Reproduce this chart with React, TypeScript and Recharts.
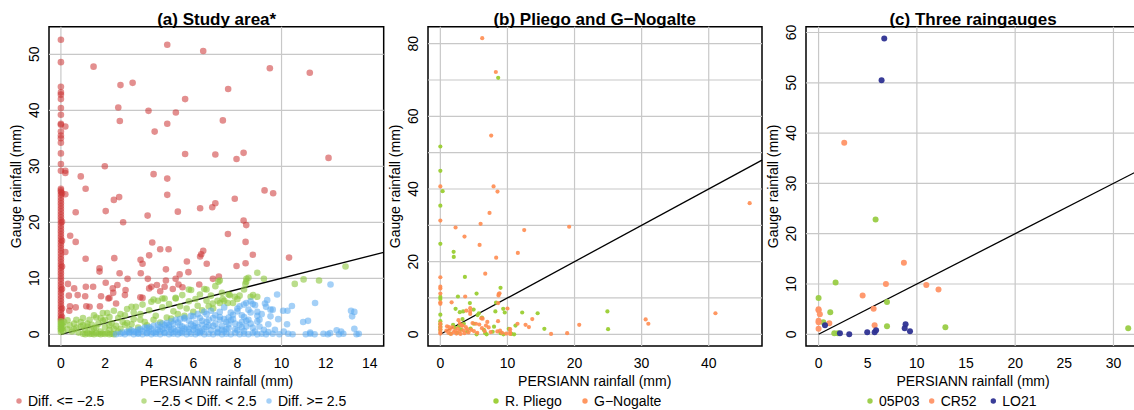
import React from 'react';
import { ScatterChart, Scatter, XAxis, YAxis, ReferenceLine, ReferenceArea } from 'recharts';

type Pair = [number, number];

// (a) study area, split by difference PERSIANN - gauge
const diffLow: Pair[] = [
  [0, 52.6], [0, 48.6], [0, 44.2], [0, 43.2], [0, 42.8], [0, 42.0], [0, 40.4], [0, 39.2], [0, 37.6], [0, 37.4],
  [0, 36.2], [0, 35.5], [0, 35.0], [0, 34.2], [0, 32.3], [0, 30.4], [0, 29.2], [0.2, 37.1], [0.2, 29.2], [0.2, 28.8],
  [0.2, 25.0], [0, 26.0], [0, 25.7], [0, 25.4], [0, 24.9], [0, 24.4], [0, 23.9], [0, 23.4], [0, 22.9], [0, 22.4],
  [0, 21.9], [0, 21.4], [0, 20.9], [0, 20.4], [0, 19.9], [0, 19.4], [0, 18.9], [0, 18.4], [0, 17.9], [0, 17.4],
  [0, 16.9], [0, 16.4], [0, 15.9], [0, 15.4], [0, 14.9], [0, 14.4], [0, 13.9], [0, 13.4], [0, 12.9], [0, 12.4],
  [0, 11.9], [0, 11.4], [0, 10.9], [0, 10.4], [0, 9.9], [0, 9.4], [0, 8.9], [0, 8.4], [0, 7.9], [0, 7.4],
  [0, 6.9], [0, 6.4], [0, 5.9], [0, 5.4], [0, 4.9], [0, 4.4], [0, 3.9], [0, 3.4], [0, 2.9], [0, 2.6],
  [0.05, 25.2], [0.05, 20.1], [0.05, 16.7], [0.05, 12.1], [0.05, 8.1], [0.05, 4.6], [0.05, 3.1],
  [1.48, 47.8], [1.99, 30.0], [0.9, 28.2], [1.12, 26.0], [2.6, 40.5], [2.7, 44.5], [3.25, 44.9], [2.67, 38.1],
  [2.64, 24.5], [2.4, 24.0], [3.97, 39.9], [4.25, 36.2], [4.2, 28.6], [4.82, 51.7], [4.82, 37.6], [4.82, 27.8],
  [4.82, 24.9], [5.21, 39.6], [5.63, 42.0], [5.63, 32.2], [6.45, 50.6], [7.0, 32.1], [7.34, 38.2], [7.58, 43.8],
  [7.96, 31.3], [8.28, 32.4], [7.88, 24.2], [9.23, 25.7], [9.62, 25.2], [9.47, 47.5], [11.28, 46.7], [12.13, 31.5],
  [0.67, 21.8], [2.03, 22.0], [2.82, 20.0], [3.93, 21.2], [5.3, 21.9], [6.31, 22.5], [6.86, 22.7], [7.0, 23.4],
  [0.42, 17.6], [0.67, 16.5], [0.2, 14.7], [7.57, 17.9], [8.28, 20.3], [8.4, 19.5], [8.37, 16.5], [4.14, 16.4],
  [4.5, 15.2], [4.88, 15.2], [6.45, 14.9], [6.36, 14.3], [6.31, 13.9], [6.61, 12.6], [5.71, 13.0], [8.7, 14.2],
  [8.37, 12.7], [7.96, 12.2], [10.34, 13.7], [1.12, 13.5], [2.42, 13.6], [3.61, 13.3], [3.7, 12.6], [4.0, 14.1],
  [1.75, 11.8], [1.75, 11.2], [2.66, 10.9], [3.62, 10.9], [3.94, 9.9], [4.76, 11.6], [5.38, 10.7], [5.78, 11.1],
  [6.89, 9.9], [7.16, 10.3], [4.76, 9.6], [5.2, 9.9], [5.33, 8.9], [5.51, 8.4], [5.07, 8.1], [4.7, 8.5],
  [4.35, 8.8], [4.1, 8.5], [4.0, 8.2], [4.5, 7.7], [6.27, 8.9], [0.32, 9.0], [0.36, 6.9], [0.6, 8.2],
  [2.03, 9.2], [2.35, 8.2], [2.56, 8.8], [2.93, 7.9], [3.02, 9.9], [1.13, 8.5], [1.46, 8.5], [0.76, 7.0],
  [1.1, 6.8], [1.82, 6.8], [2.37, 7.4], [2.9, 7.0], [2.15, 6.4], [2.2, 6.5], [3.6, 6.6], [3.7, 6.5],
  [0.41, 5.0], [0.67, 4.8], [1.15, 5.0], [1.3, 4.9], [1.77, 5.0], [0.38, 4.2], [2.5, 5.5],
];

const diffMid: Pair[] = [
  [0, 0.4], [0, 0.8], [0, 1.1], [0, 1.4], [0, 1.7], [0, 2.0], [0, 2.3], [0.1, 0.6], [0.1, 1.5], [0.15, 2.2],
  [0.05, 1.0], [0.05, 1.9], [0.3, 0.9], [0.4, 1.6], [0.5, 0.5], [0.6, 1.9], [0.7, 1.2], [0.8, 0.3], [0.9, 2.2],
  [1.0, 1.6], [0.3, 2.5], [1.0, 0.1], [1.1, 0.0], [1.2, 0.2], [1.3, 0.05], [1.4, 0.1], [1.5, 0.0], [1.6, 0.2],
  [1.7, 0.1], [1.8, 0.0], [1.9, 0.15], [2.0, 0.05], [2.1, 0.2], [2.2, 0.0], [2.3, 0.1], [2.4, 0.0],
  [1.1, 0.8], [1.2, 1.4], [1.3, 2.6], [1.4, 0.6], [1.5, 1.1], [1.6, 3.0], [1.7, 1.9], [1.8, 0.5], [1.9, 2.4],
  [2.0, 1.3], [2.1, 3.8], [2.2, 0.8], [2.3, 2.0], [2.4, 4.2], [2.5, 1.5], [1.5, 3.4], [1.9, 3.8], [2.2, 3.1],
  [0.6, 0.9], [0.9, 1.4], [1.2, 1.9], [1.6, 1.2], [2.0, 2.6], [2.6, 2.9], [2.4, 1.0], [2.9, 1.7], [3.3, 3.9],
  [3.6, 2.6], [0.7, 2.6], [1.0, 2.9], [1.4, 1.7], [1.8, 2.9], [2.2, 1.6], [2.7, 3.6], [3.0, 2.0],
  [2.6, 0.5], [2.7, 1.0], [2.8, 2.2], [2.9, 3.4], [3.0, 4.5], [3.1, 0.9], [3.2, 1.8], [3.3, 2.7], [3.4, 4.9],
  [3.5, 1.2], [3.6, 3.6], [3.7, 5.3], [3.8, 2.2], [3.9, 1.6], [4.0, 4.3], [4.1, 5.8], [4.2, 2.6], [4.3, 3.3],
  [4.4, 6.0], [4.5, 2.1], [4.6, 4.8], [4.7, 6.4], [4.8, 3.0], [4.9, 5.4], [5.0, 2.8], [5.1, 4.1], [5.2, 6.5],
  [5.3, 3.6], [5.4, 5.0], [5.5, 7.0], [5.6, 3.3], [5.7, 4.6], [5.8, 5.9], [5.9, 7.9], [6.0, 4.0], [6.1, 6.3],
  [6.2, 5.1], [6.3, 7.1], [6.4, 4.3], [6.5, 8.1], [6.6, 6.0], [6.7, 5.0], [6.8, 6.9], [6.9, 4.6], [7.0, 8.6],
  [7.2, 5.6], [7.3, 7.4], [7.4, 6.0], [7.6, 7.1], [7.8, 5.6], [8.0, 6.3], [8.1, 6.9], [8.3, 8.0], [8.4, 9.4],
  [8.5, 10.1], [8.6, 6.7], [8.9, 11.0], [8.9, 6.7], [9.2, 9.9], [10.6, 9.0], [11.0, 9.8], [11.7, 9.6],
  [12.9, 12.1], [7.2, 9.6], [6.6, 8.0], [5.8, 8.0], [5.2, 6.4], [4.6, 6.4], [4.2, 6.2], [3.2, 4.9],
  [7.14, 9.4], [8.41, 9.9], [8.36, 9.0], [8.71, 7.0], [7.88, 6.7], [7.65, 7.0], [7.33, 6.3], [7.1, 6.0],
  [6.88, 5.5], [7.56, 5.6],
];

const diffHigh: Pair[] = [
  [2.5, 0.0], [2.7, 0.1], [2.9, 0.0], [3.1, 0.2], [3.3, 0.0], [3.5, 0.1], [3.7, 0.0], [3.9, 0.2], [4.1, 0.0],
  [4.3, 0.1], [4.5, 0.0], [4.7, 0.2], [4.9, 0.0], [5.1, 0.1], [5.3, 0.0], [5.5, 0.2], [5.7, 0.0], [5.9, 0.1],
  [6.1, 0.0], [6.3, 0.2], [6.5, 0.0], [6.7, 0.1], [6.9, 0.0], [7.1, 0.2], [7.3, 0.0], [7.5, 0.1], [7.7, 0.0],
  [7.9, 0.2], [8.1, 0.0], [8.3, 0.1], [8.5, 0.0], [8.7, 0.2], [8.9, 0.0], [9.1, 0.1], [9.3, 0.0], [9.6, 0.1],
  [9.9, 0.0], [10.3, 0.1], [10.5, 0.0], [11.1, 0.0], [11.3, 0.1], [11.5, 0.0], [11.9, 0.1], [12.1, 0.0],
  [12.2, 0.2], [12.6, 0.0], [12.8, 0.1], [13.4, 0.0], [13.5, 0.1],
  [2.8, 0.3], [3.0, 0.5], [3.2, 0.7], [3.4, 0.4], [3.6, 0.9], [3.8, 1.2], [4.0, 0.6], [4.2, 1.5], [4.4, 0.8],
  [4.6, 1.9], [4.8, 1.1], [5.0, 2.3], [5.2, 0.5], [5.4, 1.6], [5.6, 2.8], [5.8, 0.9], [6.0, 3.2], [6.2, 1.3],
  [6.4, 2.4], [6.6, 3.6], [6.8, 0.7], [7.0, 1.9], [7.2, 4.0], [7.4, 2.7], [7.6, 1.1], [7.8, 3.5], [8.0, 4.6],
  [8.2, 2.2], [8.4, 1.4], [8.6, 3.9], [8.8, 5.2], [9.0, 2.6], [9.2, 0.8], [9.4, 1.8], [9.6, 4.4],
  [3.9, 0.2], [4.3, 0.4], [4.7, 0.3], [5.1, 1.0], [5.5, 0.6], [5.9, 1.8], [6.3, 0.5], [6.7, 1.6], [7.1, 0.4],
  [7.5, 2.2], [7.9, 0.9], [8.3, 3.1], [8.7, 1.2], [4.5, 1.3], [4.9, 1.7], [5.3, 2.1], [5.7, 1.2], [6.1, 2.0],
  [6.5, 1.0], [6.9, 2.9], [7.3, 1.5], [7.7, 2.5], [8.1, 1.7], [8.5, 2.6], [8.9, 3.3], [3.5, 0.2], [3.7, 0.6],
  [4.1, 1.0], [5.0, 0.3], [6.0, 0.8], [7.0, 3.4], [6.2, 3.6], [5.6, 3.0], [5.9, 3.3], [6.5, 4.0], [6.8, 4.2],
  [7.4, 4.8], [8.1, 5.0], [8.4, 5.6], [8.6, 5.9], [8.7, 5.4], [8.0, 4.1], [7.7, 3.9], [7.9, 1.9], [8.3, 0.6],
  [8.8, 0.5], [9.0, 1.4], [9.3, 4.9], [9.5, 3.2], [9.8, 7.1], [9.35, 6.1], [9.25, 5.5], [9.5, 4.4],
  [10.07, 4.2], [10.47, 5.05], [10.27, 4.2], [10.98, 2.2], [11.2, 2.4], [10.25, 1.8], [9.85, 2.7], [11.52, 5.6],
  [12.22, 8.9], [13.15, 4.2], [13.3, 4.0], [13.2, 3.2], [13.3, 1.0], [11.3, 0.3], [12.7, 0.5], [12.5, 0.7],
  [10.1, 0.5], [9.7, 0.8], [4.4, 1.7], [4.8, 2.0], [5.2, 2.6], [5.5, 1.4], [5.8, 2.4], [6.3, 2.9], [6.6, 2.2],
  [7.2, 2.6], [7.6, 3.0], [8.2, 3.4], [3.3, 0.5], [4.0, 1.3], [4.6, 0.9], [5.4, 0.3], [6.4, 1.7], [7.3, 0.8],
  [3.1, 0.4], [3.5, 0.8], [3.9, 1.1], [4.2, 0.3], [4.5, 0.6], [4.9, 1.3], [5.1, 1.9], [5.3, 0.8], [5.6, 1.0],
  [5.8, 0.4], [6.1, 1.1], [6.4, 0.6], [6.6, 1.3], [6.9, 1.5], [7.1, 1.0], [7.4, 0.5], [7.6, 1.8], [7.8, 2.7],
  [8.0, 0.7], [8.2, 1.2], [8.4, 2.4], [8.6, 1.9], [8.9, 2.3], [9.1, 3.6], [9.4, 0.4], [4.7, 1.6], [5.4, 2.7],
  [6.0, 1.5], [6.7, 2.6], [7.2, 3.1], [7.5, 0.9], [8.5, 4.4], [8.3, 5.3], [8.9, 4.0], [6.2, 0.3], [5.0, 0.8],
];

// (b) Pliego and G-Nogalte
const pliego: Pair[] = [
  [8.62, 70.6], [0, 51.7], [0, 45.0], [0.34, 39.4], [0, 35.4], [0, 24.9], [1.98, 22.7], [2.0, 21.3], [3.66, 15.8],
  [0, 10.3], [0, 9.7], [0, 5.4], [0, 3.6], [0, 2.8], [0, 1.9], [0, 1.2], [8.97, 12.8], [5.4, 11.2], [2.62, 10.4],
  [4.4, 8.6], [8.3, 8.7], [2.27, 7.0], [4.96, 6.8], [2.9, 6.1], [3.4, 6.3], [9.37, 7.0], [9.6, 6.0], [12.2, 6.0],
  [14.5, 5.8], [24.9, 6.3], [25.0, 1.4], [15.5, 1.5], [11.2, 2.4], [11.0, 0], [9.4, 0], [6.9, 0], [5.4, 0],
  [8.0, 2.1], [6.2, 4.6], [5.55, 5.3], [1.9, 2.6], [2.2, 1.8], [2.5, 0.4], [3.1, 1.3], [3.5, 2.9], [4.0, 0.8],
  [4.5, 1.6], [3.3, 4.2], [5.0, 2.9], [7.8, 0.7], [9.0, 0.3], [10.6, 0.1], [6.5, 1.2], [1.5, 0.2], [2.8, 2.2],
  [8.2, 6.3], [5.74, 5.8], [10.2, 1.5], [6.7, 0.3],
];

const nogalte: Pair[] = [
  [6.24, 81.5], [8.27, 72.2], [7.58, 54.7], [0, 40.7], [7.93, 40.7], [8.52, 39.3], [46.1, 36.1], [7.33, 33.4],
  [0, 31.3], [6.0, 30.4], [2.27, 29.4], [19.2, 29.6], [12.5, 28.7], [3.6, 26.9], [5.85, 24.6], [11.55, 22.4],
  [8.32, 21.1], [6.69, 16.7], [0, 15.7], [0, 13.1], [0, 12.6], [0, 11.2], [0, 8.8], [0, 8.4], [8.82, 11.3],
  [8.67, 10.7], [1.68, 8.8], [8.62, 8.6], [4.45, 7.2], [4.45, 6.3], [4.45, 5.6], [3.87, 6.5], [10.0, 7.1],
  [41.0, 5.8], [30.6, 4.1], [31.0, 2.9], [20.7, 2.6], [16.5, 0.1], [18.9, 0.3], [13.7, 4.2], [12.7, 2.6],
  [13.2, 2.0], [11.5, 2.9], [10.4, 1.4], [10.4, 0.6], [10.4, 0.1], [7.0, 3.4], [6.1, 4.4], [1.0, 2.2],
  [1.2, 0.4], [1.4, 1.3], [1.6, 0.1], [1.8, 1.9], [2.0, 0.6], [2.2, 1.0], [2.4, 0.2], [2.6, 1.6], [2.8, 0.8],
  [3.0, 0.1], [3.2, 2.4], [3.4, 1.1], [3.6, 0.3], [3.8, 2.0], [4.0, 1.4], [4.2, 0.5], [4.6, 1.2], [5.0, 0.9],
  [5.3, 2.9], [5.8, 2.7], [6.2, 1.7], [6.6, 0.9], [7.2, 1.9], [8.5, 0.8], [9.2, 0.4], [0, 3.0], [0, 2.2],
  [0, 1.4], [0, 0.6], [0, 0.2], [0.9, 1.0], [1.3, 2.0], [2.9, 3.0], [3.3, 2.4], [4.8, 3.1], [6.8, 2.4],
  [8.9, 1.0], [9.8, 0.2], [5.5, 0.4], [7.5, 0.6], [3.7, 10.4], [2.7, 3.9], [6.3, 4.3], [8.6, 3.6], [8.7, 11.1],
];

// (c) three raingauges
const g05P03: Pair[] = [
  [5.8, 22.8], [1.73, 10.3], [0, 7.2], [6.96, 6.4], [1.19, 4.4], [0.48, 2.4], [6.96, 1.6], [12.9, 1.4],
  [31.5, 1.2], [1.6, 0.2], [1.97, 0.2],
];
const cr52: Pair[] = [
  [2.61, 38.1], [8.68, 14.2], [6.85, 10.0], [10.96, 9.8], [12.2, 8.9], [4.48, 7.7], [5.6, 5.1], [0, 5.0],
  [0, 4.8], [0.13, 4.0], [0, 2.7], [0, 2.4], [1.09, 2.2], [0, 1.1], [5.7, 1.8],
];
const lo21: Pair[] = [
  [6.68, 58.8], [6.41, 50.5], [0.65, 1.8], [2.17, 0.2], [3.12, 0], [4.95, 0.4], [5.7, 0.4], [5.85, 0.8],
  [8.85, 2.0], [8.76, 1.2], [9.3, 0.6],
];

const xTicksA = [0, 2, 4, 6, 8, 10, 12, 14];
const yTicksA = [0, 10, 20, 30, 40, 50];
const xTicksB = [0, 10, 20, 30, 40];
const yTicksB = [0, 20, 40, 60, 80];
const xTicksC = [0, 5, 10, 15, 20, 25, 30];
const yTicksC = [0, 10, 20, 30, 40, 50, 60];

const FONT = '"Liberation Sans", Arial, Helvetica, sans-serif';
const PLOT_TOP = 26.7;
const PLOT_BOTTOM = 346;
const CHART_H = 410;
const PAD_LEFT = 50;

interface Series {
  name: string;
  data: Pair[];
  color: string;
  opacity: number;
  r: number;
}

interface PanelProps {
  boxLeft: number;
  boxRight: number;
  xDomain: [number, number];
  yDomain: [number, number];
  xTicks: number[];
  yTicks: number[];
  xGrid: number[];
  yGrid: number[];
  title: string;
  series: Series[];
  legendX: number[];
  legendR: number;
}

const toPoints = (d: Pair[]) => d.map(([x, y]) => ({ x, y }));

// x tick label, hung from an invisible reference line at the tick value
const xLabel = (v: number) => (lp: any) => {
  const vb = lp.viewBox || {};
  return (
    <text x={vb.x} y={PLOT_BOTTOM + 22} textAnchor="middle" fontSize={14} fontFamily={FONT} fill="#000">
      {v}
    </text>
  );
};

// y tick label, R style: parallel to the axis
const yLabel = (v: number) => (lp: any) => {
  const vb = lp.viewBox || {};
  return (
    <g transform={`translate(${vb.x - 15},${vb.y}) rotate(-90)`}>
      <text x={0} y={0} dy="0.35em" textAnchor="middle" fontSize={14} fontFamily={FONT} fill="#000">
        {v}
      </text>
    </g>
  );
};

function Panel(p: PanelProps) {
  const width = p.boxRight - p.boxLeft + PAD_LEFT + 6;
  const midX = (p.boxLeft + p.boxRight) / 2;
  const midY = (PLOT_TOP + PLOT_BOTTOM) / 2;
  const titleX = p.boxLeft - 33;

  return (
    <>
      <div style={{ position: 'absolute', left: p.boxLeft - PAD_LEFT, top: 0 }}>
        <ScatterChart width={width} height={CHART_H} margin={{ top: PLOT_TOP, right: 6, bottom: 44, left: 20 }}>
          <XAxis
            type="number"
            dataKey="x"
            domain={p.xDomain}
            ticks={p.xTicks}
            interval={0}
            allowDataOverflow
            axisLine={false}
            tickLine={{ stroke: '#000' }}
            tickSize={6}
            height={20}
            tick={false}
          />
          <YAxis
            type="number"
            dataKey="y"
            domain={p.yDomain}
            ticks={p.yTicks}
            interval={0}
            allowDataOverflow
            axisLine={false}
            tickLine={{ stroke: '#000' }}
            tickSize={7}
            width={30}
            tick={false}
          />
          {p.xGrid.map((v) => (
            <ReferenceLine key={'gx' + v} x={v} stroke="#c8c8c8" strokeWidth={1.2} />
          ))}
          {p.yGrid.map((v) => (
            <ReferenceLine key={'gy' + v} y={v} stroke="#c8c8c8" strokeWidth={1.2} />
          ))}
          {p.series.map((s) => (
            <Scatter
              key={s.name}
              name={s.name}
              data={toPoints(s.data)}
              isAnimationActive={false}
              shape={(sp: any) => <circle cx={sp.cx} cy={sp.cy} r={s.r} fill={s.color} fillOpacity={s.opacity} />}
            />
          ))}
          <ReferenceLine
            segment={[{ x: 0, y: 0 }, { x: p.xDomain[1], y: p.xDomain[1] }]}
            stroke="#000"
            strokeWidth={1.3}
            ifOverflow="visible"
          />
          {p.xTicks.map((v) => (
            <ReferenceLine key={'xl' + v} x={v} stroke="none" ifOverflow="visible" label={xLabel(v)} />
          ))}
          {p.yTicks.map((v) => (
            <ReferenceLine key={'yl' + v} y={v} stroke="none" ifOverflow="visible" label={yLabel(v)} />
          ))}
          <ReferenceArea
            x1={p.xDomain[0]}
            x2={p.xDomain[1]}
            y1={p.yDomain[0]}
            y2={p.yDomain[1]}
            fill="none"
            stroke="#000"
            strokeWidth={1.5}
            ifOverflow="visible"
          />
        </ScatterChart>
      </div>
      <svg
        width={1134}
        height={410}
        style={{ position: 'absolute', left: 0, top: 0, pointerEvents: 'none' }}
        fontFamily={FONT}
      >
        <text x={midX} y={25} textAnchor="middle" fontSize={17} fontWeight="bold" fill="#000">
          {p.title}
        </text>
        <text x={midX} y={386} textAnchor="middle" fontSize={14} fill="#000">
          PERSIANN rainfall (mm)
        </text>
        <text
          x={titleX}
          y={midY}
          dy="0.35em"
          transform={`rotate(-90 ${titleX} ${midY})`}
          textAnchor="middle"
          fontSize={14}
          fill="#000"
        >
          Gauge rainfall (mm)
        </text>
        {p.series.map((s, i) => (
          <g key={s.name}>
            <circle cx={p.legendX[i]} cy={401} r={p.legendR} fill={s.color} fillOpacity={s.opacity} />
            <text x={p.legendX[i] + 9} y={406} fontSize={14} fill="#000">
              {s.name}
            </text>
          </g>
        ))}
      </svg>
    </>
  );
}

export default function App() {
  return (
    <div
      style={{
        position: 'absolute',
        left: 0,
        top: 0,
        width: 1134,
        height: 410,
        overflow: 'hidden',
        background: '#fff',
        fontFamily: FONT,
      }}
    >
      <Panel
        boxLeft={49.3}
        boxRight={384}
        xDomain={[-0.54, 14.63]}
        yDomain={[-2.09, 54.93]}
        xTicks={xTicksA}
        yTicks={yTicksA}
        xGrid={[0, 10]}
        yGrid={[0, 10, 20, 30, 40, 50]}
        title="(a) Study area*"
        series={[
          { name: 'Diff. <= \u22122.5', data: diffLow, color: '#cc3333', opacity: 0.55, r: 3.3 },
          { name: '\u22122.5 < Diff. < 2.5', data: diffMid, color: '#8cc63e', opacity: 0.6, r: 3.3 },
          { name: 'Diff. >= 2.5', data: diffHigh, color: '#5aaaf0', opacity: 0.55, r: 3.3 },
        ]}
        legendX={[19, 144, 269]}
        legendR={2.7}
      />
      <Panel
        boxLeft={427.7}
        boxRight={761.7}
        xDomain={[-1.84, 47.94]}
        yDomain={[-3.22, 84.67]}
        xTicks={xTicksB}
        yTicks={yTicksB}
        xGrid={[0, 10, 20, 30, 40]}
        yGrid={[0, 10, 20, 30, 40, 50, 60, 70, 80]}
        title={'(b) Pliego and G\u2212Nogalte'}
        series={[
          { name: 'R. Pliego', data: pliego, color: '#9acd32', opacity: 0.95, r: 2.1 },
          { name: 'G\u2212Nogalte', data: nogalte, color: '#ff8c50', opacity: 0.9, r: 2.1 },
        ]}
        legendX={[496, 585]}
        legendR={2.7}
      />
      <Panel
        boxLeft={805.7}
        boxRight={1140.3}
        xDomain={[-1.28, 32.76]}
        yDomain={[-2.33, 61.15]}
        xTicks={xTicksC}
        yTicks={yTicksC}
        xGrid={[0, 10, 20, 30]}
        yGrid={[0, 10, 20, 30, 40, 50, 60]}
        title="(c) Three raingauges"
        series={[
          { name: '05P03', data: g05P03, color: '#99cc44', opacity: 0.95, r: 3.0 },
          { name: 'CR52', data: cr52, color: '#ff9466', opacity: 0.95, r: 3.0 },
          { name: 'LO21', data: lo21, color: '#2e3192', opacity: 0.95, r: 3.0 },
        ]}
        legendX={[870, 931.7, 993.3]}
        legendR={2.7}
      />
    </div>
  );
}
